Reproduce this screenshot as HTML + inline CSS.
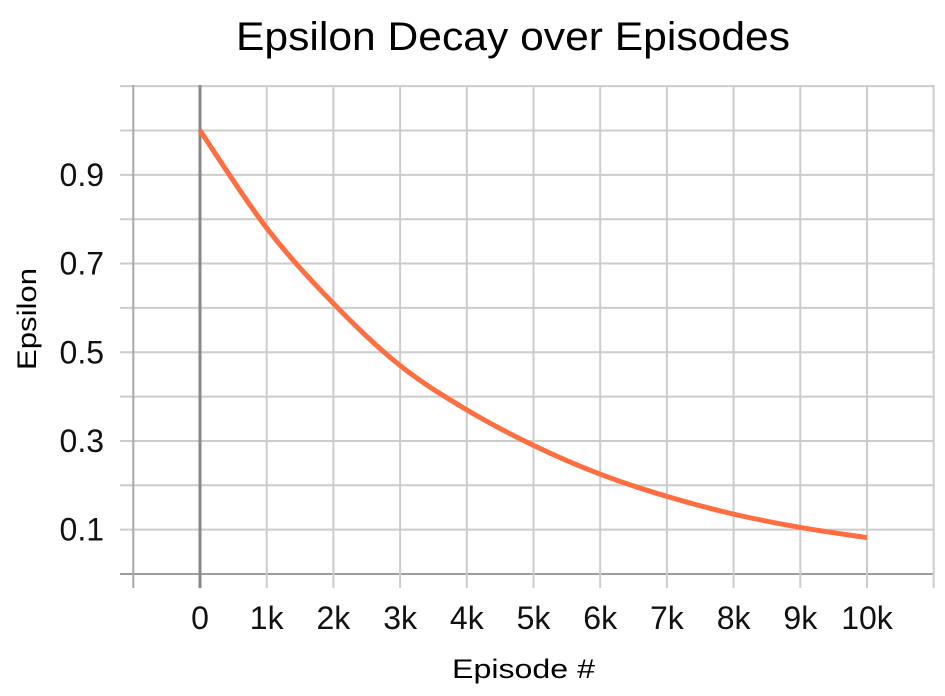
<!DOCTYPE html>
<html><head><meta charset="utf-8"><style>
html,body{margin:0;padding:0;background:#fff;}
svg{display:block;}
</style></head><body>
<svg id="chart" width="945" height="696" viewBox="0 0 945 696" xmlns="http://www.w3.org/2000/svg">
<text x="236" y="50" textLength="554" lengthAdjust="spacingAndGlyphs" font-family="Liberation Sans, sans-serif" font-size="40" fill="#000">Epsilon Decay over Episodes</text>
<g id="grid"></g>
<g id="yticks"></g>
<g id="xticks"></g>
<path id="line" fill="none" stroke="#ff6e40" stroke-width="5" stroke-linecap="butt"/>
<text transform="translate(36,370) rotate(-90)" textLength="102" lengthAdjust="spacingAndGlyphs" font-family="Liberation Sans, sans-serif" font-size="27" fill="#000">Epsilon</text>
<text x="452" y="678" textLength="143" lengthAdjust="spacingAndGlyphs" font-family="Liberation Sans, sans-serif" font-size="27" fill="#000">Episode #</text>
</svg>
<script>
const episodes = [0,1000,2000,3000,4000,5000,6000,7000,8000,9000,10000];
const epsilonValues = [1.0,0.78,0.61,0.47,0.37,0.29,0.225,0.175,0.135,0.105,0.082];
const xTickValues = [0,1000,2000,3000,4000,5000,6000,7000,8000,9000,10000];
const xTickLabels = ["0","1k","2k","3k","4k","5k","6k","7k","8k","9k","10k"];
const yTickValues = [0.1,0.3,0.5,0.7,0.9];
const yTickLabels = ["0.1","0.3","0.5","0.7","0.9"];

const NS="http://www.w3.org/2000/svg";
const x = v => 200 + v/1000*66.7;
const y = v => 574 - v*443.5;
function mk(tag, attrs, parent){const e=document.createElementNS(NS,tag);for(const k in attrs)e.setAttribute(k,attrs[k]);parent.appendChild(e);return e;}
const grid=document.getElementById('grid');
for(let i=0;i<=11;i++){
  const yy=y(i/10);
  const l=mk('line',{x1:120,x2:934,y1:yy,y2:yy,stroke:i===0?'#9e9e9e':'#cccccc','stroke-width':2},grid);
  
  
}
for(let k=-1;k<=11;k++){
  const xx=x(k*1000);
  const l=mk('line',{x1:xx,x2:xx,y1:85,y2:588,stroke:k===0?'#888888':(k===-1?'#a8a8a8':'#cccccc'),'stroke-width':k===0?3:2},grid);
  
  
}
const yt=document.getElementById('yticks');
yTickValues.forEach((v,i)=>{
  const t=mk('text',{x:104,y:y(v)+11,'text-anchor':'end','font-family':'Liberation Sans, sans-serif','font-size':32,fill:'#111'},yt);
  t.textContent=yTickLabels[i];
  
  
});
const xt=document.getElementById('xticks');
xTickValues.forEach((v,i)=>{
  const t=mk('text',{x:x(v),y:629,'text-anchor':'middle','font-family':'Liberation Sans, sans-serif','font-size':32,fill:'#111'},xt);
  t.textContent=xTickLabels[i];
  
  
});
const pts=episodes.map((e,i)=>[x(e),y(epsilonValues[i])]);
let d='M'+pts[0][0]+','+pts[0][1];
for(let i=0;i<pts.length-1;i++){
  const p0=pts[i-1]||pts[i],p1=pts[i],p2=pts[i+1],p3=pts[i+2]||p2;
  const c1=[p1[0]+(p2[0]-p0[0])/6,p1[1]+(p2[1]-p0[1])/6];
  const c2=[p2[0]-(p3[0]-p1[0])/6,p2[1]-(p3[1]-p1[1])/6];
  d+=` C${c1[0]},${c1[1]} ${c2[0]},${c2[1]} ${p2[0]},${p2[1]}`;
}
document.getElementById('line').setAttribute('d',d);
</script>
</body></html>
